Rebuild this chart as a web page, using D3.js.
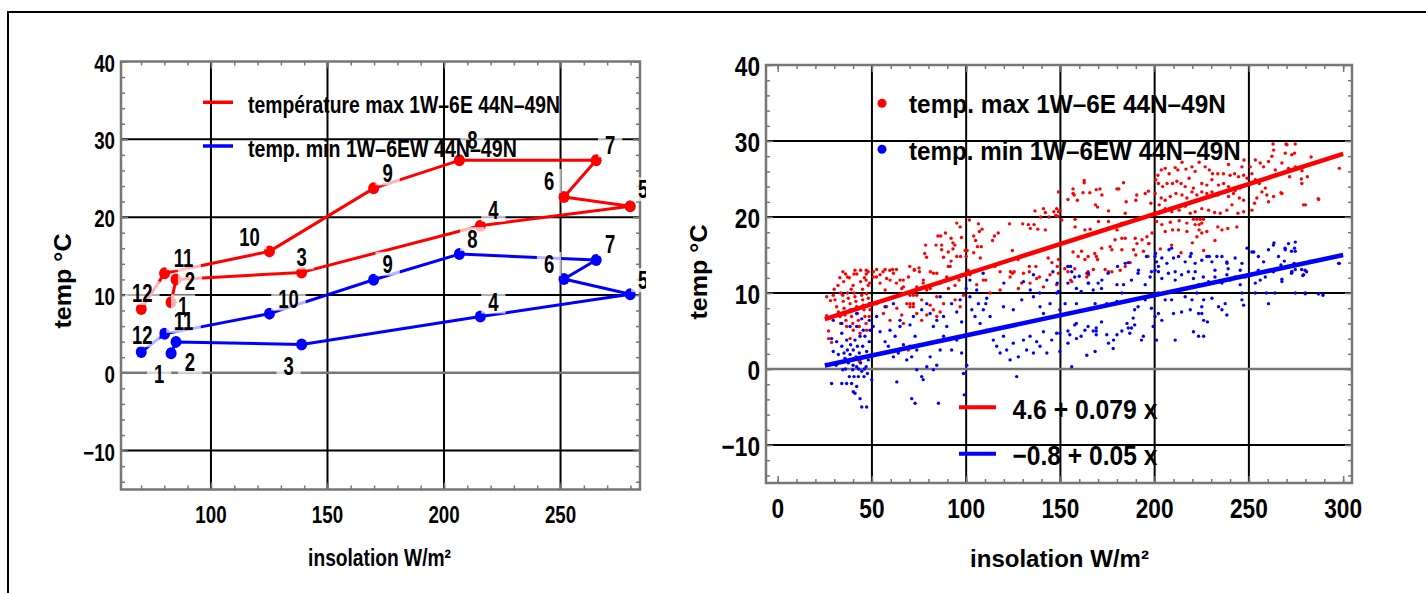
<!DOCTYPE html>
<html>
<head>
<meta charset="utf-8">
<script src="https://cdn.jsdelivr.net/npm/d3@7"></script>
<style>
  body { margin: 0; background: #fff; }
  text { font-family: "Liberation Sans", Arial, sans-serif; font-weight: bold; fill: #000; }
</style>
</head>
<body>
<svg id="svg" width="1426" height="593"></svg>
<script>
// ---- left chart: monthly means ----
const months = [1, 2, 3, 4, 5, 6, 7, 8, 9, 10, 11, 12];
const insolation = [82.9, 85.0, 138.9, 215.6, 279.9, 251.5, 265.3, 206.6, 169.8, 125.1, 80.1, 70.1];
const tempMax = [9.05, 12.0, 12.9, 18.9, 21.4, 22.6, 27.3, 27.3, 23.7, 15.6, 12.8, 8.2];
const tempMin = [2.52, 3.97, 3.63, 7.22, 10.1, 12.06, 14.5, 15.25, 11.96, 7.6, 5.0, 2.66];
const leftLegend = ["température max 1W–6E 44N–49N", "temp. min 1W–6EW 44N–49N"];

// ---- right chart: scatter + fits ----
const rightLegend = ["temp. max 1W–6E 44N–49N", "temp. min 1W–6EW 44N–49N"];
const fitLabels = ["4.6 + 0.079 x", "−0.8 + 0.05 x"];
const fitMax = { a: 4.6, b: 0.079 };
const fitMin = { a: -0.87, b: 0.0529 };
const fitRange = [25, 300];

const maxPoints = [
[95,19.2],[101.7,19.6],[96.8,18.7],[106.5,19.1],[108.4,18.4],[107,18.1],[85,17.5],[86.5,17.5],[89,17.9],[92,17.2],[93,16.6],[94,16.3],[93,15.8],[97.5,17.3],[99.5,15.6],[100.5,15.6],[104,17.5],[105,16.9],[106,16.1],[108,16.1],[104,15.3],[100,14.8],[97,14.8],[95,14.8],[90.5,15.4],[87,16.3],[87,15.7],[84,16.3],[78.5,16.3],[78,15.2],[79,14.7],[88,14.7],[92,14.2],[90.5,13.5],[107.5,14.6],[115,17.5],[117,17.9],[114,16.9],[123,19.1],[130,19.1],[133,19],[134,18.5],[136,19],[138,18.4],[142,18.3],[124.5,15.6],[127.5,14.4],[137,13.5],[143.5,14.6],[145.5,14],[149,14.4],[133.5,13.5],[133.5,12.8],[123.5,12.8],[125.5,12.8],[136.5,20.8],[141,21.1],[142,20.6],[146.5,20.7],[139.5,20],[144,20],[147.5,20.2],[48,12.8],[52.5,13.1],[57,13.1],[61,13.1],[63,13.1],[72.5,13.1],[75,13.3],[75.2,12.8],[81,12.8],[47,12.5],
[162.6,24.8],[162.6,24.5],[156.7,23.7],[156.7,23.1],[157.3,22.9],[154,22.3],[159,22.2],[162,23.2],[165.6,23.2],[169,23.6],[171,23.7],[168.6,21.6],[169.7,21.3],[172,22.9],[175.5,20.8],[180,23.7],[181,23.7],[183.5,24.5],[184.9,22],[190,22.2],[190.5,22.9],[195,23.1],[196.7,23.4],[198,21.8],[149,23.3],[149.7,20.9],[148.6,20.1],[148,21.1],
[200.6,24.9],[201.7,25.5],[203.5,26.2],[205.6,26.4],[207.7,25.7],[210.9,26.5],[212.3,26.2],[214.5,27.2],[216.6,26.3],[219.8,26.6],[221.5,26],[223.6,27.2],[226.8,26.6],[229,26.2],[230.7,25.7],[233.5,25.7],[236.5,25.7],[239.2,26.9],[240,25.5],[242.4,25.7],[244.5,25.3],[246.3,26.6],[247.2,25.5],
[202,24.4],[204.2,24],[206.6,24.4],[209.5,24.4],[211.8,24.7],[214,24.4],[216.2,24],[218.3,25.1],[220.6,23.8],[225,24.4],[227.7,24.2],[230.4,24.9],[233.9,24.2],[236.6,24.4],[239.2,24],[242.7,23.5],[245.4,23.8],
[200.3,23.1],[203.5,22.5],[205.6,22.2],[208.3,22.7],[211.3,23.1],[214.5,22.9],[217.1,22.5],[219.8,23.3],[222.4,22.9],[225,23.3],[227.7,23.1],[230.4,23.3],[233.5,22.9],[236.5,23.3],[239.2,22.7],[241.8,23.1],[244.9,22.5],[247.2,22.2],
[202.4,21.6],[205.6,21.1],[209.1,20.7],[213,20.9],[216.2,21.4],[218.9,20.5],[221.5,20.7],[225,21.1],[228.6,20.9],[231.8,20.6],[234.8,20.5],[238.3,20.9],[241,21.6],[244.2,20.5],[247.2,20.7],
[201,19.4],[203.8,19],[208.3,19.3],[213,19.5],[217.1,19.2],[220.6,19.7],[222.4,19.7],[224.2,19.7],[225.9,19.7],[221.5,19],[223.6,19],[225,19.2],[223.6,18.3],[225,17.9],[222.4,17.4],[227.7,18.1],[233.5,18.7],[235.7,18.3],[238.8,18.5],[243.6,18.7],[217.1,18.1],[212.6,18.3],[209.5,18.3],[205.6,18.1],
[250.7,26.6],[251.6,25.7],[253.4,27.5],[256,27.1],[257.8,26.6],[260.4,27.3],[262.2,28],[263.1,28.8],[264,26.2],[267.5,27.1],[269.3,28.4],[270.2,29.5],[272.8,28.2],[274.2,28.4],[271,26.4],[274.6,26.6],[277.8,25],[278.1,24.4],[253.4,24.9],[255.5,24.4],[256.9,23.3],[258.7,23.8],[259.5,22.9],[254.2,22.5],[253,21.8],[251.6,20.9],[260.4,22],[263.1,22.7],[267.5,23.1],[279,21.6],[287,22.3],[298,26.4],[262.8,29.6],[269.7,29.6],[274.6,29.6],[281,25.3],[283,27.9],[280,21.6],[286.8,22.4],[267,23.2],[247.4,27.5],[249,25.1],[271.6,25.3],[278.2,26.1],
[149,20.7],[150.7,19.6],[157.8,19.7],[157.8,18.7],[163,18.3],[165.8,18.4],[170.2,19.4],[175.5,19.4],[182.6,19.2],[184.4,20.5],[180,18.3],[182.6,17.2],[184.4,17.2],[189.7,17.2],[190.6,16.5],[193.3,17],[195.9,17.4],[196.8,16.5],[198.6,17.9],[179,17],[176.4,16.1],[171.9,15.9],[177.3,15.7],[168.2,15.2],[169.1,14.8],[169.7,14.4],[164.7,14.8],[163,14.4],[161.2,15.5],[159.4,14.8],[156.7,15.4],[182.6,15.7],[188.8,15.7],[190,15],[194.1,15.5],[196.5,14.8],[187,14],[184.4,13.5],[181.7,13],[177.3,12.8],[173.7,13.1],[167.5,13.1],[164.7,12.8],[157.6,13.2],[154,13.5],[152.3,13.2],[149,12.6],[154,12.8],[164,12.6],[164,12.1],[165,12.4],[175.5,12.8],[156,11.5],
[197,16.5],[203,15.8],[209,16.3],[214,15.3],[220,16.6],[226,15.6],[232,16.9],
[29.5,9.7],[30.4,9.1],[31.3,8.2],[32.2,7.5],[33.1,6.9],[33.4,6],[34.5,9.7],[34.8,8.9],[35.2,8],[35.7,7.1],[36.2,6.4],[36.6,5.6],[37.5,9.3],[38.4,8.6],[38.7,7.8],[39.2,6.9],[39.8,6],[40.1,5.1],[41,9.5],[41.5,8.9],[41.9,8.2],[42.3,7.3],[42.8,6.4],[43.3,5.6],[43.7,4.7],[44.6,9.7],[45.1,9.1],[45.4,8.4],[45.8,7.8],[46.3,6.9],[46.9,6],[47.2,5.1],[48.1,9.3],[48.6,8.6],[49,7.8],[48.6,6.9],[38.4,4],[28.6,3.5],[43.3,1],[33.4,10],[37,10],[40.5,10],[47.2,9.9],[32,11],[35,11.5],[38,12],[40,11],[42,12.5],[44,11.5],[46,12],[36,12.5],[30,10.5],[48,11],[45,10.5],[39,10.5],[33,12],[41,13],[47,13],[26,7],[27,5],[28,9],[27,4],[26,9.5],[34.6,12.8],[37,12.1],[40.5,12.5],[44,13],[46.9,11.7],[48.8,11.3],
[50.7,12.1],[54.3,11.3],[57,10.4],[59.6,11.7],[62.3,9.5],[65.8,10.6],[68.5,8.6],[70.2,8.6],[72,8.6],[70.2,8.2],[72,8.2],[73.8,9.7],[76.4,9.1],[79.1,10.4],[80.9,8.4],[84.4,9.5],[88,8.6],[90.6,10.6],[94.1,9.1],[96.8,8.2],[98.6,9.7],[56.1,7.3],[59.6,6.4],[65.8,7.1],[66.7,6],[76.4,6.4],[79.1,7.1],[84.4,6.9],[52.5,8.6],[57.8,8.2],[63.2,8],[73.8,7.3],[82.6,7.8],[86.2,7.5],[69.3,2.5],[43.7,1.2],[50.8,12.8],[54.3,12.4],[57.8,11.9],[61.4,12.6],[64.9,11.7],[66.7,10.8],[69.4,12.1],[70.2,9.7],[72,9.7],[73.8,10.8],[77.3,11.7],[80.9,10.6],[82.6,12.6],[86.2,11.3],[89.7,12.1],[94.1,11],[97.7,12.4],[52.4,12.1],[55.9,12.8],[59.5,13],[63,11.3],[66.6,11.7],[70.1,13.5],[72.5,13],[77.2,11.3],[84.4,12.6],[91.5,13.5],[96.2,11.7],
[102,12.4],[105.6,11.1],[109.1,11.7],[112.7,10],[118,10.4],[123.3,12.1],[127.7,10.6],[130.4,12.6],[133.9,11.3],[137.4,11.9],[141,10.8],[144.5,12.4],[148,11.1],[118,12.8],[101,13],[110.4,11.7],[115.2,13.5],[124.6,12.6],[129.4,11.3],[138.9,12.1],[148.3,13.5],[155.4,11.7]
];

const minPoints = [
[209,15.9],[200.2,14.8],[201,14.1],[202,13.5],[203.8,14.6],[206.5,13.9],[210,14.6],[212.7,14.8],[216.2,14.1],[218.9,14.8],[221.5,13.9],[225,14.3],[227.7,14.8],[230.4,14.1],[233,14.8],[235.7,14.8],[238.3,14.1],[242.7,14.6],[246.3,13.9],[249,15.9],[251.6,15.4],[255,14.8],[257.8,14.1],[260.4,15.7],[263,16.3],[265.7,14.8],[269.3,15.7],[271,16.5],[274.2,15.9],[255,13],[262,13],[272.8,12.8],[200.2,13],[210.9,12.8],[221.5,12.8],[232,13],[239,13.2],[245.4,13],[154,13.5],[184.4,13.9],[191.4,13],[198.3,12.8],[156,12.8],[164.7,12.6],[298,13.9],
[155.4,13.5],[160,12.2],[165,11.3],[172,11.7],[180.3,13.5],[186,14],[195.7,14.8],[200.5,15.2],[207.6,15.7],[219.4,15.2],[229,14.8],[238.4,13.9],[252.6,15.4],[263.3,16.6],[269.2,15.9],[274,13.9],[279.8,13],[289.3,9.7],[297.6,13.9],[100,10.6],[110.4,8.6],[134,10.4],[139,10],[148.3,11.3],
[274.6,16.7],[274.6,15.5],[272.6,15.5],[268.8,14.2],[267,13.7],[282.6,14.2],[279.9,9.9],[286.8,9.9],[267.5,11.8],[278,13.1],[278.6,12.3],[272.6,12.6],[274.6,13.1],
[149,10.2],[154,11.3],[157.6,12.1],[158.5,10.6],[161,10.2],[164.7,11.3],[167.4,10.4],[170,11.3],[171.8,10.6],[175.3,12.6],[180,11.1],[183.5,11.1],[187.7,11.7],[191.2,12.6],[195,11.1],[197.6,12.1],[202,12.8],[203.8,11.9],[207.3,12.6],[210.9,11.7],[214.3,12.4],[217.9,12.8],[220.6,11.9],[223.3,11.1],[225.8,12.1],[228.6,11.5],[232,12.1],[235.7,11.3],[238.3,12.4],[240.1,11.7],[242.7,12.1],[245.4,11.1],[248,12.1],[253.4,11.3],[256,11.7],[258.7,12.1],[263,12.8],[267.5,11.5],[272.8,12.8],[279,12.4],[280.6,12.8],[253.4,10],[259.3,10],[263.8,10],[274.6,10],[279.9,10],[287,9.9],[260.4,8.6],
[202,10],[205.6,9.1],[209,9.1],[216.2,9.5],[219.8,9.1],[222.4,10],[226,9.1],[225,8.2],[223.3,7.3],[225,7.3],[226,6.4],[228,6.2],[230.4,9.3],[233.9,8.2],[235.7,7.8],[237.4,8.6],[238.3,7.1],[246.3,9.1],[247.2,8.4],[246.3,10],[218.9,7.8],[214.3,7.5],[210,7.3],[203.8,6.4],[202,7.3],[200.2,6.9],[220.6,4.9],[223.3,4.3],[226,4.3],[210.9,3.8],[201,3.8],[199.2,5.6],[198.3,8],[195,9.1],[191.2,8.2],[189.4,7.8],[188.6,6.7],[189.4,5.8],[187.7,5.4],[186.8,4.7],[186,5.4],[182.6,5],[180,4.5],[178.2,3.8],[175.5,3.4],[178,2.7],[174.6,4.5],[171.8,6.2],[169,5.4],[169,5],[169,4.5],[167.4,5],[164.7,5.6],[163,5.1],[161,4.3],[158.5,4],[157.6,5.8],[154,5],[155,4.5],[154,3.4],[149.7,4.7],[149.7,2.3],[156,0.3],[164,1.8],[168.4,2.3],[158.5,6],[158.5,8.6],[152.5,8.6],[168.4,8.6],[174.6,8.6],[180,8.9],[182.6,10],[185.3,6],[193,3.8],[194,4.3],
[28.6,4],[28.6,-1.9],[29.5,2.3],[31.3,3.6],[32.2,1.9],[33.1,1],[34,3],[34.5,-0.1],[35.2,2.1],[35.7,1.4],[36.6,3.8],[37,2.5],[37.5,0.8],[38,-1],[38.4,1.9],[38.7,3.2],[39.2,1.2],[39.8,-0.1],[40.1,2.5],[40.5,-1],[41,3.8],[41.5,1.6],[41.9,0.3],[42.3,3],[42.8,-1],[43.3,2.1],[43.7,4.3],[44,0.8],[44.6,-0.3],[45.1,3],[45.4,1.6],[45.8,-1],[46.3,4.3],[46.9,0.3],[47.2,2.3],[47.6,-0.6],[48.1,1.2],[48.6,3.6],[49,5.1],[48.6,6.4],[45.4,5.1],[41.9,5.6],[34,4.7],[41.9,-2.3],[41,-3.2],[43.7,-3.9],[44.6,-5],[47.2,-5],[40.1,-3],[34,-1.9],[36.6,-1.9],[39.2,-1.9],[29.5,6.4],[34,6],[38.4,5.6],[41.9,7.3],[44.6,6.6],[49,8.6],[43,0],[46,0],[40,0.5],[36,0],[31,0.5],
[50.7,5.6],[52.5,6.9],[54.3,4.9],[57,3.6],[58.7,3],[59.6,5.1],[61.4,1.6],[62.3,4.3],[64,2.1],[64.9,5.6],[66.7,3.2],[68.5,1.2],[70.2,3],[71.1,1.6],[72.9,4.3],[73.8,2.5],[73.8,-0.1],[76.4,-1],[77.2,-1.4],[79.1,0.3],[80.9,1.6],[82.6,-0.1],[84.4,0.5],[86.2,2.5],[88,4.3],[89.7,5.6],[92.3,2.5],[95,3.8],[97.6,2.1],[98.6,-0.6],[99,-3.4],[72.9,-4.5],[71.1,-3.9],[85.3,-4.5],[63.2,-1.7],[49.9,-1.4],[57,8.2],[61.4,8.6],[64.9,6.4],[70.2,5.8],[76.4,7.8],[79.1,8.6],[80.9,7.3],[86.2,9.5],[92.3,8.6],[95,7.5],[96.8,9.1],[97.6,6.2],[88,6.9],[84.4,6.4],[82.6,5.6],[72,6.9],
[102,9.5],[103,7.8],[104.7,6.9],[106.5,8.6],[107.4,6],[109.1,7.8],[110.9,5.1],[112.7,6.9],[114.4,3.8],[116.2,3],[118,2.1],[119.8,4.3],[121.5,2.5],[123.3,1.2],[125,3.4],[126.8,-1],[127.7,1.6],[130.4,3.8],[132.1,2.5],[133.9,4.3],[135.7,2.1],[137.4,3.6],[139.2,3],[141,4.9],[142.8,2.1],[145.4,3.8],[148,4.7],[105.6,10.4],[110.9,9.3],[119.8,8.2],[125,7.8],[129.5,9.1],[135.7,9.5],[139.2,8.2],[141,7.3],[144.5,8.6],[148,10],[149.7,7.8],[102,11.7],[109,12.6],[120,11.3],[130.4,11.5],[135.7,12.4],[142.8,11.7],[146,12.8],[100.3,0.5]
];

// label placement around the monthly points (layout only, px offsets)
const offMax = [[12,4],[14,2],[0,-15],[13,-16],[13,-17],[-15,-16],[14,-15],[13,-20],[14,-15],[-20,-14],[19,-15],[1,-16]];
const offMin = [[-12,21],[14,20],[-13,21],[13,-15],[13,-14],[-15,-15],[14,-16],[13,-15],[14,-16],[19,-15],[19,-13],[1,-17]];

const RED = "#ff0000", BLUE = "#0000ff", FRAME = "#777";
const svg = d3.select("#svg");

// outer frame
svg.append("rect").attr("x", 8).attr("y", 12).attr("width", 1440).attr("height", 600)
  .attr("fill", "none").attr("stroke", "#000").attr("stroke-width", 2);

function txt(g, s, x, y, size, anchor, sx) {
  return g.append("text").attr("transform", `translate(${x},${y}) scale(${sx},1)`)
    .attr("text-anchor", anchor).attr("font-size", size).text(s);
}
function fit(g, s, x, y, size, width, anchor, rotate) {
  const t = g.append("text").attr("text-anchor", anchor || "start").attr("font-size", size).text(s);
  const w = t.node().getComputedTextLength();
  t.attr("transform", `translate(${x},${y})${rotate ? " rotate(-90)" : ""} scale(${width / w},1)`);
  return t;
}

function panel(p) {
  const g = svg.append("g");
  const [x0, x1] = p.x.range(), [yb, yt] = p.y.range();
  g.selectAll("line.gx").data(p.gridX).join("line").attr("class", "gx")
    .attr("x1", d => p.x(d)).attr("x2", d => p.x(d)).attr("y1", yt).attr("y2", yb)
    .attr("stroke", "#000").attr("stroke-width", 2);
  g.selectAll("line.gy").data(p.gridY).join("line").attr("class", "gy")
    .attr("x1", x0).attr("x2", x1).attr("y1", d => p.y(d)).attr("y2", d => p.y(d))
    .attr("stroke", "#000").attr("stroke-width", 2);
  g.append("line").attr("x1", x0).attr("x2", x1).attr("y1", p.y(0)).attr("y2", p.y(0))
    .attr("stroke", FRAME).attr("stroke-width", 2.5);

  const ticks = (axis, tr) => g.append("g").attr("transform", tr).call(axis)
    .call(s => { s.select(".domain").remove(); s.selectAll("line").attr("stroke", FRAME).attr("stroke-width", 1.5); });
  [[p.xMinor, 4], [p.xMajor, 7]].forEach(([v, k]) => {
    ticks(d3.axisBottom(p.x).tickValues(v).tickSize(-k).tickFormat(""), `translate(0,${yb})`);
    ticks(d3.axisTop(p.x).tickValues(v).tickSize(-k).tickFormat(""), `translate(0,${yt})`);
  });
  [[p.yMinor, 4], [p.yMajor, 7]].forEach(([v, k]) => {
    ticks(d3.axisLeft(p.y).tickValues(v).tickSize(-k).tickFormat(""), `translate(${x0},0)`);
    ticks(d3.axisRight(p.y).tickValues(v).tickSize(-k).tickFormat(""), `translate(${x1},0)`);
  });
  g.append("rect").attr("x", x0).attr("y", yt).attr("width", x1 - x0).attr("height", yb - yt)
    .attr("fill", "none").attr("stroke", FRAME).attr("stroke-width", 2.5);

  const fmt = d => (d < 0 ? "−" + (-d) : String(d));
  p.xMajor.forEach(d => txt(g, fmt(d), p.x(d), p.xLabelY, p.fs, "middle", p.sx));
  p.yMajor.forEach(d => txt(g, fmt(d), x0 - 6, p.y(d) + p.fs * 0.42, p.fs, "end", p.sx));
  return g;
}

// ---------------- left panel ----------------
const xL = d3.scaleLinear([61.4, 284.1], [121, 640]);
const yL = d3.scaleLinear([-15, 40], [489.5, 61.5]);
panel({ x: xL, y: yL, gridX: [100, 150, 200, 250], gridY: [-10, 10, 20, 30],
  xMinor: d3.range(70, 290, 10), xMajor: [100, 150, 200, 250],
  yMinor: d3.range(-14, 40, 2), yMajor: [-10, 0, 10, 20, 30, 40],
  xLabelY: 523, fs: 24, sx: 0.78 });

const gL = svg.append("g");
svg.append("clipPath").attr("id", "clipL").append("rect").attr("x", 100).attr("y", 40).attr("width", 546).attr("height", 460);
const plotL = gL.append("g").attr("clip-path", "url(#clipL)");
const idx = d3.range(months.length);
[[tempMax, RED], [tempMin, BLUE]].forEach(([vals, col]) => {
  plotL.append("path").datum(idx)
    .attr("d", d3.line().x(i => xL(insolation[i])).y(i => yL(vals[i])))
    .attr("fill", "none").attr("stroke", col).attr("stroke-width", 3).attr("stroke-linejoin", "round");
  plotL.selectAll(null).data(idx).join("ellipse")
    .attr("cx", i => xL(insolation[i])).attr("cy", i => yL(vals[i]))
    .attr("rx", 5.5).attr("ry", 6).attr("fill", col);
});
const LFS = 25, LSX = 0.74;
[[tempMax, offMax], [tempMin, offMin]].forEach(([vals, off]) => {
  idx.forEach(i => {
    const cx = xL(insolation[i]) + off[i][0], cy = yL(vals[i]) + off[i][1];
    const w = String(months[i]).length * LFS * 0.556 * LSX + 14;
    plotL.append("rect").attr("x", cx - w / 2).attr("y", cy - 12).attr("width", w).attr("height", 24)
      .attr("fill", "#fff").attr("opacity", 0.7);
  });
});
[[tempMax, offMax], [tempMin, offMin]].forEach(([vals, off]) => {
  idx.forEach(i => {
    txt(plotL, String(months[i]), xL(insolation[i]) + off[i][0], yL(vals[i]) + off[i][1] + LFS * 0.36, LFS, "middle", LSX);
  });
});
// legend
[[RED, 102.3, 113, 312], [BLUE, 146, 157, 269]].forEach(([col, ly, by, w], k) => {
  gL.append("line").attr("x1", 203).attr("x2", 233).attr("y1", ly).attr("y2", ly)
    .attr("stroke", col).attr("stroke-width", 3.5);
  fit(gL, leftLegend[k], 248, by, 24, w);
});
fit(gL, "insolation W/m²", 379.5, 566, 24, 143, "middle");
fit(gL, "temp °C", 71, 281, 24, 95, "middle", true);

// ---------------- right panel ----------------
const xR = d3.scaleLinear([-6.2, 304.7], [766, 1352]);
const yR = d3.scaleLinear([-15, 40], [483, 65]);
panel({ x: xR, y: yR, gridX: [50, 100, 150, 200, 250], gridY: [-10, 10, 20, 30],
  xMinor: d3.range(0, 310, 10), xMajor: [0, 50, 100, 150, 200, 250, 300],
  yMinor: d3.range(-14, 40, 2), yMajor: [-10, 0, 10, 20, 30, 40],
  xLabelY: 518, fs: 27, sx: 0.84 });

const gR = svg.append("g");
svg.append("clipPath").attr("id", "clipR").append("rect").attr("x", 767).attr("y", 66).attr("width", 584).attr("height", 416);
const plotR = gR.append("g").attr("clip-path", "url(#clipR)");
[[maxPoints, RED], [minPoints, BLUE]].forEach(([pts, col]) => {
  plotR.selectAll(null).data(pts).join("circle")
    .attr("cx", d => xR(d[0])).attr("cy", d => yR(d[1])).attr("r", 1.7).attr("fill", col);
});
[[fitMax, RED], [fitMin, BLUE]].forEach(([f, col]) => {
  plotR.append("path").datum(fitRange)
    .attr("d", d3.line().x(d => xR(d)).y(d => yR(f.a + f.b * d)))
    .attr("stroke", col).attr("stroke-width", 4.5).attr("fill", "none");
});
// legends
[[RED, 103.3, 113.3, 317], [BLUE, 149.3, 160, 332]].forEach(([col, cy, by, w], k) => {
  gR.append("circle").attr("cx", 882).attr("cy", cy).attr("r", 4.5).attr("fill", col);
  fit(gR, rightLegend[k], 909, by, 25, w);
});
[[RED, 407.3, 419.3], [BLUE, 453.7, 465]].forEach(([col, ly, by], k) => {
  gR.append("line").attr("x1", 959).attr("x2", 996).attr("y1", ly).attr("y2", ly)
    .attr("stroke", col).attr("stroke-width", 4);
  fit(gR, fitLabels[k], 1012.5, by, 27, 145);
});
fit(gR, "insolation W/m²", 1059.5, 567, 24, 179, "middle");
fit(gR, "temp °C", 707, 272, 24, 95, "middle", true);
</script>
</body>
</html>
